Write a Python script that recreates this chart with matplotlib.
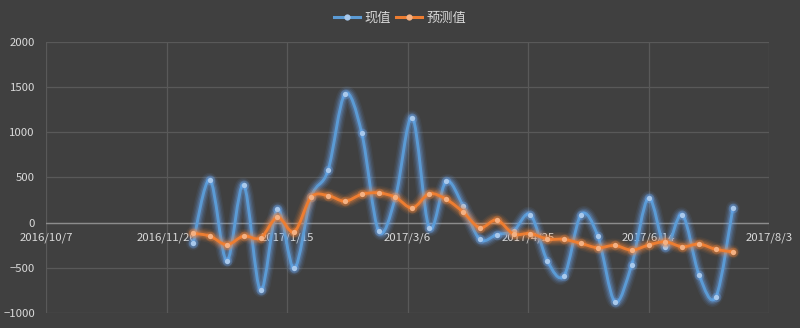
import numpy as np
import pandas as pd
import matplotlib
matplotlib.use("Agg")
import matplotlib.pyplot as plt
import matplotlib.dates as mdates
from matplotlib.path import Path
from matplotlib.patches import PathPatch
from matplotlib.lines import Line2D

plt.rcParams['font.family'] = ['Noto Sans CJK SC', 'DejaVu Sans']

# ---- data ----
start_date = "2016-12-07"
n_weeks = 33
actual = [-230, 474, -422, 418, -748, 152, -507, 281, 578, 1422, 993,
          -92, 281, 1163, -56, 456, 189, -185, -133, -89, 89, -422, -585,
          89, -152, -874, -467, 274, -274, 89, -581, -819, 163]
forecast = [-118, -148, -244, -148, -170, 59, -100, 281, 300, 237, 314,
            330, 281, 163, 319, 259, 119, -56, 30, -125, -120, -181, -185,
            -230, -278, -252, -304, -248, -211, -267, -237, -296, -322]
series_names = ["现值", "预测值"]
tick_dates = ["2016-10-07", "2016-11-26", "2017-01-15", "2017-03-06",
              "2017-04-25", "2017-06-14", "2017-08-03"]
tick_labels = ["2016/10/7", "2016/11/26", "2017/1/15", "2017/3/6",
               "2017/4/25", "2017/6/14", "2017/8/3"]
y_ticks = [-1000, -500, 0, 500, 1000, 1500, 2000]

dates = pd.date_range(start_date, periods=n_weeks, freq="7D")
xnum = mdates.date2num(dates.to_pydatetime())

BG = "#404040"
GRID = "#595959"
TXT = "#d9d9d9"
BLUE = "#5b9bd5"
ORANGE = "#ed7d31"

fig = plt.figure(figsize=(8, 3.28), dpi=100, facecolor=BG)
ax = fig.add_axes([0.0575, 0.0457, 0.9038, 0.8263])
ax.set_facecolor(BG)

xt = mdates.date2num(pd.to_datetime(tick_dates).to_pydatetime())
ax.set_xlim(xt[0], xt[-1])
ax.set_ylim(-1000, 2000)


def smooth_path(x, y):
    x = np.asarray(x, float)
    y = np.asarray(y, float)
    verts = [(x[0], y[0])]
    codes = [Path.MOVETO]
    n = len(x)
    for i in range(n - 1):
        p0 = (x[max(i - 1, 0)], y[max(i - 1, 0)])
        p1 = (x[i], y[i])
        p2 = (x[i + 1], y[i + 1])
        p3 = (x[min(i + 2, n - 1)], y[min(i + 2, n - 1)])
        c1 = (p1[0] + (p2[0] - p0[0]) / 6, p1[1] + (p2[1] - p0[1]) / 6)
        c2 = (p2[0] - (p3[0] - p1[0]) / 6, p2[1] - (p3[1] - p1[1]) / 6)
        verts += [c1, c2, p2]
        codes += [Path.CURVE4] * 3
    return Path(verts, codes)


def draw_series(y, color, glow, marker_color, z):
    path = smooth_path(xnum, y)
    for lw, a in [(10, 0.07), (8, 0.10), (6, 0.16), (4.2, 0.22)]:
        ax.add_patch(PathPatch(path, facecolor="none", edgecolor=glow,
                               lw=lw, alpha=a, zorder=z, capstyle="round",
                               joinstyle="round"))
    ax.add_patch(PathPatch(path, facecolor="none", edgecolor=color, lw=2.1,
                           zorder=z + 0.1, capstyle="round"))
    ax.plot(xnum, y, ls="none", marker="o", ms=7, mfc=glow, mec="none",
            alpha=0.25, zorder=z + 0.2)
    ax.plot(xnum, y, ls="none", marker="o", ms=3.8, mfc=marker_color,
            mec="none", zorder=z + 0.3)


draw_series(actual, BLUE, "#6fb0ff", "#a9c9ec", 3)
draw_series(forecast, ORANGE, "#ff8a3a", "#f4b183", 4)

# grid
ax.set_yticks(y_ticks)
ax.set_xticks(xt)
ax.set_xticklabels(tick_labels)
ax.grid(True, color=GRID, lw=0.9)
ax.set_axisbelow(True)
ax.axhline(0, color="#8c8c8c", lw=1.0, zorder=1.5)

for s in ["top", "right", "left", "bottom"]:
    ax.spines[s].set_visible(False)
ax.spines["bottom"].set_position(("data", 0))

ax.tick_params(axis="x", length=0, pad=7, labelsize=8.2, labelcolor=TXT)
ax.tick_params(axis="y", length=0, pad=8, labelsize=8.2, labelcolor=TXT)

handles = [
    Line2D([], [], color=BLUE, lw=2.2, marker="o", ms=4.5, mfc="#a9c9ec", mec="none"),
    Line2D([], [], color=ORANGE, lw=2.2, marker="o", ms=4.5, mfc="#f4b183", mec="none"),
]
leg = fig.legend(handles, series_names, loc="center", bbox_to_anchor=(0.5, 0.945),
                 ncol=2, frameon=False, fontsize=9.5, labelcolor=TXT,
                 handlelength=2.0, handletextpad=0.3, columnspacing=0.4)

fig.savefig("out.png", dpi=100, facecolor=BG)
